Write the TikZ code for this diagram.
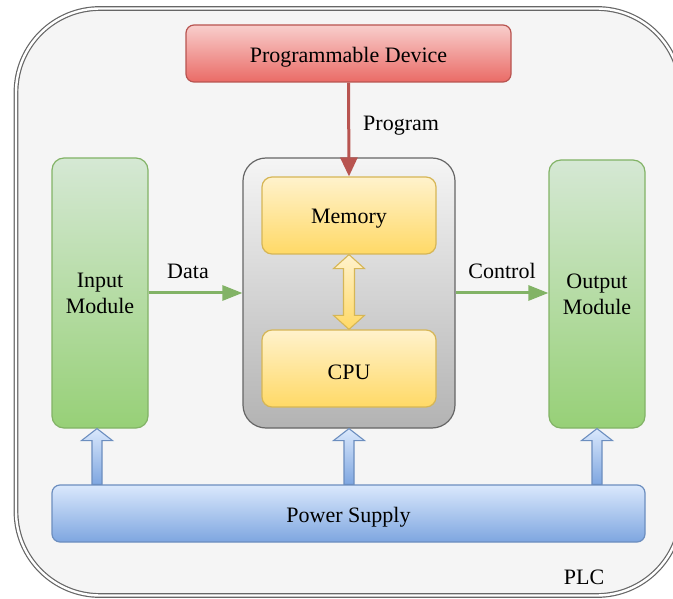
\documentclass[tikz,border=0pt]{standalone}
\usepackage{fontspec}
\setmainfont{Liberation Serif}
\usetikzlibrary{arrows.meta,calc}

\definecolor{frameline}{HTML}{666666}
\definecolor{framefill}{HTML}{F5F5F5}
\definecolor{redtop}{HTML}{F8CECC}
\definecolor{redbot}{HTML}{EA6B66}
\definecolor{redline}{HTML}{B85450}
\definecolor{graytop}{HTML}{F5F5F5}
\definecolor{graybot}{HTML}{B3B3B3}
\definecolor{yeltop}{HTML}{FFF2CC}
\definecolor{yelbot}{HTML}{FFD966}
\definecolor{yelline}{HTML}{D6B656}
\definecolor{grntop}{HTML}{D5E8D4}
\definecolor{grnbot}{HTML}{97D077}
\definecolor{grnline}{HTML}{82B366}
\definecolor{blutop}{HTML}{DAE8FC}
\definecolor{blubot}{HTML}{7EA6E0}
\definecolor{bluline}{HTML}{6C8EBF}

\tikzset{
  txt/.style={font=\fontsize{22}{26}\selectfont, align=center},
  block/.style={txt, draw, line width=1.2pt, inner sep=0pt},
  redbox/.style={block, draw=redline, top color=redtop, bottom color=redbot, rounded corners=8pt},
  graybox/.style={block, draw=frameline, top color=graytop, bottom color=graybot, rounded corners=23pt},
  yelbox/.style={block, draw=yelline, top color=yeltop, bottom color=yelbot, rounded corners=10pt},
  grnbox/.style={block, draw=grnline, top color=grntop, bottom color=grnbot, rounded corners=12pt},
  blubox/.style={block, draw=bluline, top color=blutop, bottom color=blubot, rounded corners=8pt},
  flow/.style={line width=3pt, -{Triangle[length=20pt,width=15pt]}},
  lbl/.style={txt, inner sep=0pt},
  powerarrow/.style={draw=bluline, line width=1.1pt, top color=blutop, bottom color=blubot},
  busarrow/.style={draw=yelline, line width=1.1pt, top color=yeltop, bottom color=yelbot},
}

% single-line captions sit slightly low in their boxes (box size kept)
\newcommand\lowtxt[1]{\raisebox{-3.5pt}[\height][\depth]{#1}}

% upward block arrow from #2 (base) to #3 (tip)
\newcommand\blockup[3]{%
  \path[#1] let \p1=#2, \p2=#3 in
    (\x2,\y2) -- (\x2+15.5pt,\y2-12pt) -- (\x2+5pt,\y2-12pt) -- (\x2+5pt,\y1)
    -- (\x2-5pt,\y1) -- (\x2-5pt,\y2-12pt) -- (\x2-15.5pt,\y2-12pt) -- cycle;
}
% two-headed vertical block arrow between #2 (top tip) and #3 (bottom tip)
\newcommand\blockboth[3]{%
  \path[#1] let \p1=#2, \p2=#3 in
    (\x1,\y1) -- (\x1+15.5pt,\y1-14pt) -- (\x1+5.5pt,\y1-14pt) -- (\x1+5.5pt,\y2+14pt)
    -- (\x1+15.5pt,\y2+14pt) -- (\x1,\y2) -- (\x1-15.5pt,\y2+14pt) -- (\x1-5.5pt,\y2+14pt)
    -- (\x1-5.5pt,\y1-14pt) -- (\x1-15.5pt,\y1-14pt) -- cycle;
}

\begin{document}
\begin{tikzpicture}[x=1pt,y=-1pt]
\useasboundingbox (0,0) rectangle (673,599);

% PLC enclosure with double outline
\draw[draw=frameline, line width=1.2pt, double=white, double distance=2.4pt,
      fill=framefill, rounded corners=84pt] (16,8.5) rectangle (681,595.5);

% blocks
\node[redbox, minimum width=325pt, minimum height=57pt] (dev) at (348.5,53.5) {\lowtxt{Programmable Device}};
\node[graybox, minimum width=212pt, minimum height=270pt] (core) at (349,293) {};
\node[yelbox, minimum width=174pt, minimum height=77pt] (mem) at (349,215.5) {\lowtxt{Memory}};
\node[yelbox, minimum width=174pt, minimum height=77pt] (cpu) at (349,368.5) {\lowtxt{CPU}};
\node[grnbox, minimum width=96pt, minimum height=270pt] (in) at (100,293) {Input\\Module};
\node[grnbox, minimum width=96pt, minimum height=268pt] (out) at (597,294) {Output\\Module};
\node[blubox, minimum width=593pt, minimum height=57pt] (psu) at (348.5,513.5) {\lowtxt{Power Supply}};

% signal connectors
\draw[flow, draw=redline, fill=redline, -{Triangle[length=19pt,width=17pt]}]
  (dev.south) -- (mem.north) node[lbl, pos=0.46, anchor=west, xshift=13pt] {Program};
\draw[flow, draw=grnline, fill=grnline]
  (in.east |- 0,293) -- (core.west |- 0,293) node[lbl, pos=0.42, anchor=south, yshift=13pt] {Data};
\draw[flow, draw=grnline, fill=grnline]
  (core.east |- 0,293) -- (out.west |- 0,293) node[lbl, midway, anchor=south, yshift=13pt] {Control};

% memory <-> cpu bus
\blockboth{busarrow}{(mem.south)}{(cpu.north)}

% power feeds
\blockup{powerarrow}{([xshift=-3pt]in.south |- psu.north)}{([xshift=-3pt]in.south)}
\blockup{powerarrow}{(core.south |- psu.north)}{(core.south)}
\blockup{powerarrow}{(out.south |- psu.north)}{(out.south)}

\node[lbl] (plc) at (584,577) {PLC};
\end{tikzpicture}
\end{document}
